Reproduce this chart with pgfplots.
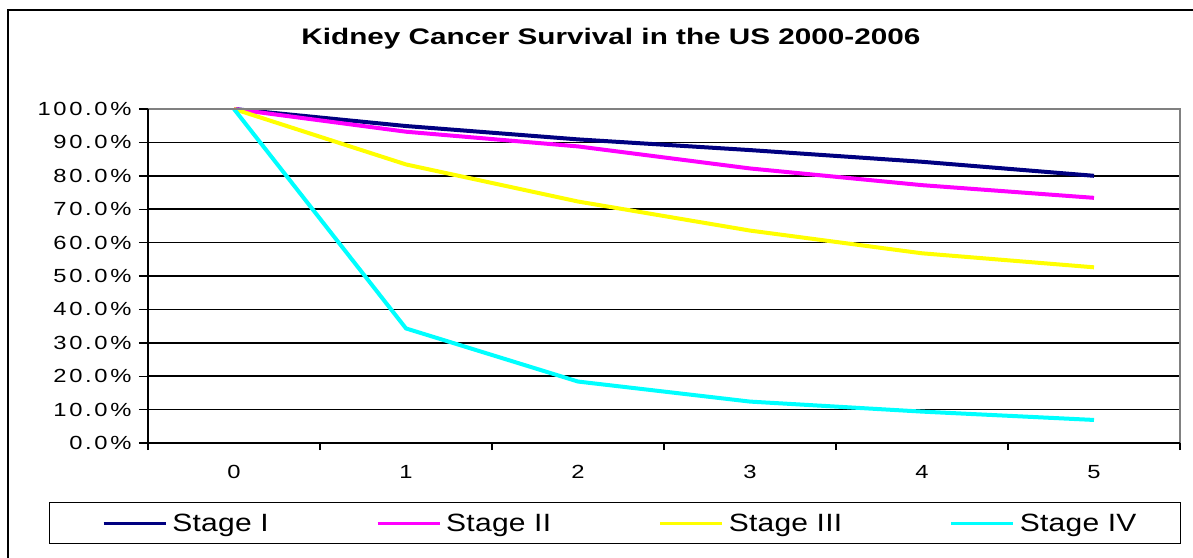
\documentclass[border=0pt]{standalone}
\usepackage{fontspec}
\setmainfont{Liberation Sans}
\usepackage{pgfplots}
\pgfplotsset{compat=1.18}
\newfontfamily\tickfont[FakeStretch=1.25,LetterSpace=14]{Liberation Sans}
\newfontfamily\legfont[FakeStretch=1.2,LetterSpace=1]{Liberation Sans}
\newfontfamily\titlefont[FakeStretch=1.32]{Liberation Sans}
\definecolor{navyS}{RGB}{0,0,128}
\definecolor{magS}{RGB}{255,0,255}
\definecolor{yelS}{RGB}{255,255,0}
\definecolor{cyaS}{RGB}{0,255,255}
\begin{document}
\begin{tikzpicture}
\useasboundingbox (-148pt,-114pt) rectangle (1045pt,443pt);
\draw[black, line width=1.5pt] (-140pt,-130pt) -- (-140pt,433pt) -- (1060pt,433pt);
\node[font=\titlefont\bfseries\fontsize{22.5}{26}\selectfont] at (463pt,404pt) {Kidney Cancer Survival in the US 2000-2006};
\begin{axis}[
  at={(0pt,0pt)}, anchor=south west,
  scale only axis, width=1032pt, height=334pt,
  xmin=-0.5, xmax=5.5, ymin=0, ymax=100,
  clip=false,
  xtick={0,1,2,3,4,5}, xticklabels={0,1,2,3,4,5},
  minor xtick={-0.5,0.5,1.5,2.5,3.5,4.5,5.5},
  ytick={0,10,20,30,40,50,60,70,80,90,100},
  yticklabels={0.0\%,10.0\%,20.0\%,30.0\%,40.0\%,50.0\%,60.0\%,70.0\%,80.0\%,90.0\%,100.0\%},
  xtick pos=bottom, ytick pos=left,
  tick align=outside,
  major tick length=9pt, minor tick length=7pt,
  major x tick style={draw=none},
  tick style={black, line width=1.4pt},
  ymajorgrids, major grid style={black, line width=1.5pt},
  axis line style={draw=none},
  yticklabel style={font=\tickfont\fontsize{19}{22}\selectfont, xshift=-4pt},
  xticklabel style={font=\tickfont\fontsize{19}{22}\selectfont, yshift=-10pt},
  legend columns=4,
  legend image code/.code={\path (0pt,0pt); \draw[#1, line width=3.2pt] (10pt,0pt) -- (72pt,0pt);},
  legend style={at={(-0.0959,-0.1766)}, anchor=north west, draw=black, line width=1.4pt,
    inner xsep=42pt, inner ysep=9pt,
    font=\legfont\fontsize{25}{28}\selectfont,
    /tikz/every odd column/.append style={column sep=3pt},
    /tikz/every even column/.append style={column sep=95pt}},
]
\addplot[color=navyS, line width=4pt] coordinates {(0,100)(1,94.9)(2,90.9)(3,87.7)(4,84.2)(5,80.0)};
\addlegendentry{Stage I}
\addplot[color=magS, line width=4pt] coordinates {(0,100)(1,93.2)(2,88.8)(3,82.2)(4,77.2)(5,73.4)};
\addlegendentry{Stage II}
\addplot[color=yelS, line width=4pt] coordinates {(0,100)(1,83.4)(2,72.3)(3,63.6)(4,56.8)(5,52.6)};
\addlegendentry{Stage III}
\addplot[color=cyaS, line width=4pt] coordinates {(0,100)(1,34.3)(2,18.4)(3,12.4)(4,9.4)(5,6.9)};
\addlegendentry{Stage IV}
\draw[gray, line width=1.4pt] (rel axis cs:0,1) -- (rel axis cs:1,1) -- (rel axis cs:1,0);
\draw[black, line width=1.4pt] (rel axis cs:0,1) -- (rel axis cs:0,0) -- (rel axis cs:1,0);
\end{axis}
\end{tikzpicture}
\end{document}
